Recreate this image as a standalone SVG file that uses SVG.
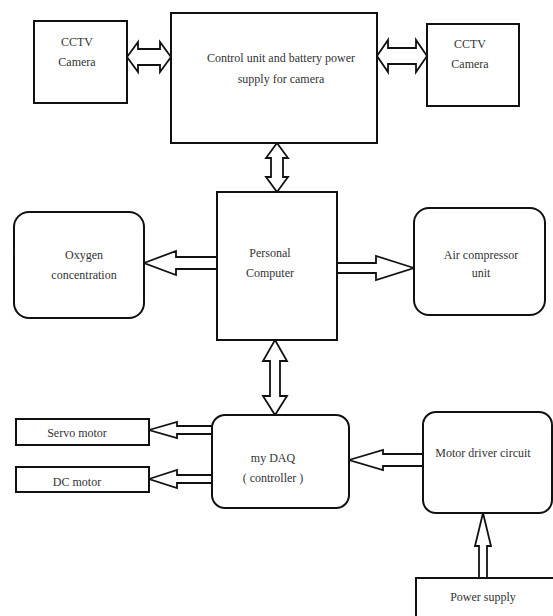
<svg xmlns="http://www.w3.org/2000/svg" width="553" height="616" viewBox="0 0 553 616">
<style>
.box{fill:#fff;stroke:#111;stroke-width:2}
.arr{fill:#fff;stroke:#111;stroke-width:1.8;stroke-linejoin:miter}
text{font-family:"Liberation Serif","Times New Roman",serif;font-size:12px;fill:#333;text-anchor:middle}
</style>
<rect width="553" height="616" fill="#fff"/>
<g id="connectors">
<path class="arr" d="M127,57 L138,42 L138,49 L160,49 L160,42 L171,57 L160,72 L160,65 L138,65 L138,72 Z"/>
<path class="arr" d="M377,56 L388,40 L388,48 L416,48 L416,40 L427,56 L416,72 L416,64 L388,64 L388,72 Z"/>
<path class="arr" d="M277,143 L288,158 L283,158 L283,177 L288,177 L277,192 L266,177 L271,177 L271,158 L266,158 Z"/>
<path class="arr" d="M144,263 L176,251 L176,257 L217,257 L217,269 L176,269 L176,275 Z"/>
<path class="arr" d="M414,268 L376,256 L376,263 L337,263 L337,273 L376,273 L376,280 Z"/>
<path class="arr" d="M275,340 L287,361 L280,361 L280,396 L287,396 L275,415 L263,396 L270,396 L270,361 L263,361 Z"/>
<path class="arr" d="M149,430 L177,422 L177,426 L212,426 L212,434 L177,434 L177,438 Z"/>
<path class="arr" d="M149,479 L177,470 L177,475 L212,475 L212,483 L177,483 L177,488 Z"/>
<path class="arr" d="M349,460 L383,450 L383,454 L423,454 L423,466 L383,466 L383,470 Z"/>
<path class="arr" d="M483,513 L491,546 L487,546 L487,578 L479,578 L479,546 L475,546 Z"/>
</g>
<g id="cctv-left">
<rect class="box" x="34" y="21" width="93" height="82"/>
<text x="77" y="46">CCTV</text>
<text x="77" y="66">Camera</text>
</g>
<g id="control-unit">
<rect class="box" x="171" y="13" width="206" height="130"/>
<text x="281" y="62">Control unit and battery power</text>
<text x="281" y="83">supply for camera</text>
</g>
<g id="cctv-right">
<rect class="box" x="427" y="24" width="92" height="82"/>
<text x="470" y="48">CCTV</text>
<text x="470" y="68">Camera</text>
</g>
<g id="oxygen">
<rect class="box" x="14" y="212" width="130" height="106" rx="15"/>
<text x="84" y="259">Oxygen</text>
<text x="84" y="279">concentration</text>
</g>
<g id="pc">
<rect class="box" x="217" y="192" width="120" height="148"/>
<text x="270" y="257">Personal</text>
<text x="270" y="277">Computer</text>
</g>
<g id="air-compressor">
<rect class="box" x="414" y="208" width="131" height="107" rx="15"/>
<text x="481" y="259">Air compressor</text>
<text x="481" y="277">unit</text>
</g>
<g id="servo">
<rect class="box" x="16" y="419" width="133" height="26"/>
<text x="77" y="437">Servo motor</text>
</g>
<g id="dc">
<rect class="box" x="16" y="467" width="133" height="25"/>
<text x="77" y="486">DC motor</text>
</g>
<g id="daq">
<rect class="box" x="212" y="415" width="137" height="93" rx="13"/>
<text x="273" y="462">my DAQ</text>
<text x="273" y="482">( controller )</text>
</g>
<g id="motor-driver">
<rect class="box" x="423" y="412" width="129" height="101" rx="13"/>
<text x="483" y="457">Motor driver circuit</text>
</g>
<g id="power-supply">
<rect class="box" x="416" y="578" width="150" height="60"/>
<text x="483" y="601">Power supply</text>
</g>
</svg>
